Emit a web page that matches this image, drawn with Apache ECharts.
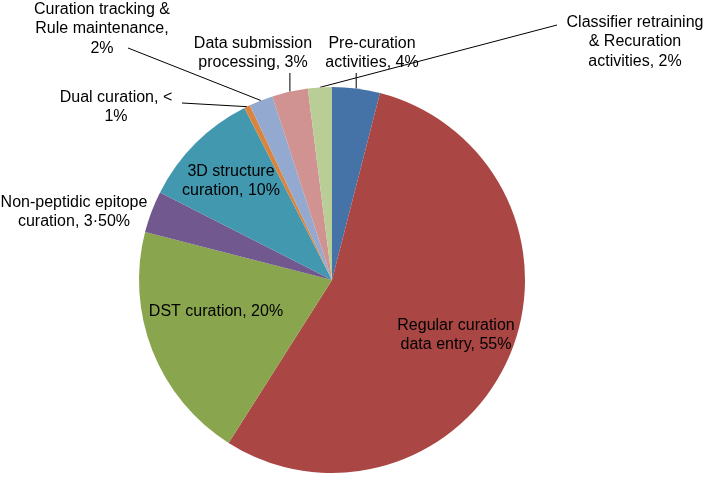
<!DOCTYPE html>
<html><head><meta charset="utf-8">
<script src="https://cdn.jsdelivr.net/npm/echarts@6/dist/echarts.min.js"></script>
<style>html,body{margin:0;padding:0;background:#fff}#c{width:709px;height:477px}</style>
</head><body><div id="c"></div>
<script>
const categories = ['Pre-curation activities','Regular curation data entry','DST curation','Non-peptidic epitope curation','3D structure curation','Dual curation','Curation tracking & Rule maintenance','Data submission processing','Classifier retraining & Recuration activities'];
const values = [4, 55, 20, 3.5, 10, 0.5, 2, 3, 2];
const labelTexts = ['Pre-curation\nactivities, 4%','Regular curation\ndata entry, 55%','DST curation, 20%','Non-peptidic epitope\ncuration, 3·50%','3D structure\ncuration, 10%','Dual curation, <\n1%','Curation tracking &\nRule maintenance,\n2%','Data submission\nprocessing, 3%','Classifier retraining\n& Recuration\nactivities, 2%'];
const colors = ['#4572A7','#AA4643','#89A54E','#71588F','#4198AF','#DB843D','#93A9CF','#D19392','#B9CD96'];
const hasLeader = [true,false,false,false,false,true,true,true,true];
// label placement (layout only): label centre and leader-line end
const labelPos = [
  {c:[372,53], end:{type:'below', dy:20}},
  {c:[456,335]},
  {c:[216,312]},
  {c:[74,212]},
  {c:[231,181]},
  {c:[116,107], end:{dx:66, dy:-4}},
  {c:[102,29], end:{dx:26, dy:19}},
  {c:[253,53], end:{type:'below', dy:20}},
  {c:[635,42], end:{dx:-78, dy:-17}}
];
const chart = echarts.init(document.getElementById('c'), null, {renderer:'canvas'});
chart.setOption({
  animation:false,
  backgroundColor:'#fff',
  series:[{
    type:'pie',
    center:[332,280],
    radius:193,
    startAngle:90,
    clockwise:true,
    avoidLabelOverlap:false,
    itemStyle:{borderWidth:0},
    emphasis:{disabled:true},
    label:{show:true, position:'outside', color:'#000', fontSize:16, lineHeight:19.5,
      fontFamily:'"Liberation Sans", Arial, Helvetica, sans-serif',
      formatter:p=>labelTexts[p.dataIndex]},
    labelLine:{show:true, length:10, length2:10, lineStyle:{color:'#000', width:1}},
    labelLayout:function(p){
      const lp = labelPos[p.dataIndex];
      const out = {x:lp.c[0], y:lp.c[1], align:'center', verticalAlign:'middle'};
      if (lp.end && p.labelLinePoints) {
        const a = p.labelLinePoints[0];
        let e;
        if (lp.end.type === 'below') e = [a[0], lp.c[1] + lp.end.dy];
        else e = [lp.c[0] + lp.end.dx, lp.c[1] + lp.end.dy];
        out.labelLinePoints = [a, e, e];
      }
      return out;
    },
    data:categories.map((n,i)=>({name:n, value:values[i], itemStyle:{color:colors[i]}, labelLine:{show:hasLeader[i]}}))
  }]
});
</script></body></html>
